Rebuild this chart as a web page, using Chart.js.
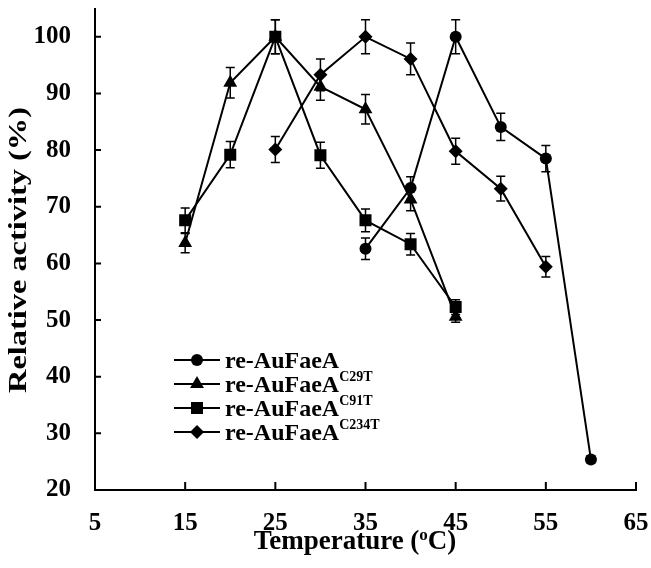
<!DOCTYPE html>
<html>
<head>
<meta charset="utf-8">
<script src="https://cdn.jsdelivr.net/npm/chart.js@4/dist/chart.umd.min.js"></script>
<style>
  html, body { margin: 0; padding: 0; background: #fff; }
</style>
</head>
<body>
<canvas id="chart" width="651" height="568"></canvas>
<script>
const seriesNames = ["re-AuFaeA", "re-AuFaeA", "re-AuFaeA", "re-AuFaeA"];
const seriesSup = ["", "C29T", "C91T", "C234T"];

const wtTemp = [35, 40, 45, 50, 55, 60];
const wtAct = [62.6, 73.3, 100, 84.1, 78.5, 25.4];
const wtErr = [1.9, 2.0, 3.0, 2.4, 2.3, 0.6];

const c29Temp = [15, 20, 25, 30, 35, 40, 45];
const c29Act = [63.6, 91.9, 100, 91.2, 87.2, 71.3, 50.6];
const c29Err = [1.7, 2.7, 3.0, 2.4, 2.6, 2.0, 1.0];

const c91Temp = [15, 20, 25, 30, 35, 40, 45];
const c91Act = [67.6, 79.2, 100, 79.1, 67.6, 63.4, 52.3];
const c91Err = [2.2, 2.3, 3.0, 2.3, 2.0, 1.9, 1.3];

const c234Temp = [25, 30, 35, 40, 45, 50, 55];
const c234Act = [80.1, 93.3, 100, 96.1, 79.8, 73.2, 59.4];
const c234Err = [2.3, 2.8, 3.0, 2.8, 2.3, 2.2, 1.8];

const xTicks = [5, 15, 25, 35, 45, 55, 65];
const yTicks = [20, 30, 40, 50, 60, 70, 80, 90, 100];

const serif = "'Liberation Serif', 'Times New Roman', serif";
const markers = [
  { style: "circle", r: 6 },
  { style: "triangle", r: 8 },
  { style: "rect", r: 8.5 },
  { style: "rectRot", r: 7 },
];

function pts(xs, ys) {
  return xs.map((x, i) => ({ x: x, y: ys[i] }));
}

const allTemps = [wtTemp, c29Temp, c91Temp, c234Temp];
const allActs = [wtAct, c29Act, c91Act, c234Act];
const allErrs = [wtErr, c29Err, c91Err, c234Err];

const datasets = allTemps.map((t, i) => ({
  label: seriesNames[i] + seriesSup[i],
  data: pts(t, allActs[i]),
  errors: allErrs[i],
  borderColor: "#000",
  backgroundColor: "#000",
  borderWidth: 2,
  pointStyle: markers[i].style,
  pointRadius: markers[i].r,
  pointHoverRadius: markers[i].r,
  pointBorderWidth: 0,
  tension: 0,
}));

// error bars, ticks pointing inwards, legend and axis titles
const extras = {
  id: "extras",
  beforeDatasetsDraw(chart) {
    const ctx = chart.ctx;
    const xs = chart.scales.x, ys = chart.scales.y;
    ctx.save();
    ctx.strokeStyle = "#000";
    ctx.lineWidth = 1.5;
    chart.data.datasets.forEach(ds => {
      ds.data.forEach((p, j) => {
        const e = ds.errors[j];
        const px = xs.getPixelForValue(p.x);
        const top = ys.getPixelForValue(p.y + e);
        const bot = ys.getPixelForValue(p.y - e);
        ctx.beginPath();
        ctx.moveTo(px, top); ctx.lineTo(px, bot);
        ctx.moveTo(px - 4.5, top); ctx.lineTo(px + 4.5, top);
        ctx.moveTo(px - 4.5, bot); ctx.lineTo(px + 4.5, bot);
        ctx.stroke();
      });
    });
    ctx.restore();
  },
  afterDraw(chart) {
    const ctx = chart.ctx;
    const xs = chart.scales.x, ys = chart.scales.y;
    const area = chart.chartArea;
    ctx.save();
    ctx.strokeStyle = "#000";
    ctx.lineWidth = 2;
    ctx.beginPath();
    xs.ticks.forEach(t => {
      const px = xs.getPixelForValue(t.value);
      ctx.moveTo(px, area.bottom); ctx.lineTo(px, area.bottom - 8);
    });
    ys.ticks.forEach(t => {
      const py = ys.getPixelForValue(t.value);
      ctx.moveTo(area.left, py); ctx.lineTo(area.left + 6, py);
    });
    ctx.stroke();

    // legend
    ctx.fillStyle = "#000";
    seriesNames.forEach((name, i) => {
      const y = 360 + i * 24;
      ctx.lineWidth = 2;
      ctx.beginPath();
      ctx.moveTo(174, y); ctx.lineTo(220, y);
      ctx.stroke();
      Chart.helpers.drawPoint(ctx, { pointStyle: markers[i].style, radius: markers[i].r, rotation: 0, borderWidth: 0 }, 197, y);
      ctx.font = "bold 24px " + serif;
      ctx.textAlign = "left";
      ctx.textBaseline = "alphabetic";
      ctx.fillText(name, 225, y + 8);
      if (seriesSup[i]) {
        const w = ctx.measureText(name).width;
        ctx.font = "bold 14px " + serif;
        ctx.fillText(seriesSup[i], 225 + w, y - 3);
      }
    });

    // y title
    ctx.save();
    ctx.translate(19, 250);
    ctx.rotate(-Math.PI / 2);
    ctx.font = "bold 26px " + serif;
    const yt = "Relative activity (%)";
    const yw = ctx.measureText(yt).width;
    ctx.scale(286 / yw, 1);
    ctx.textAlign = "center";
    ctx.textBaseline = "middle";
    ctx.fillText(yt, 0, 0);
    ctx.restore();

    // x title with superscript o
    ctx.font = "bold 27px " + serif;
    ctx.textBaseline = "alphabetic";
    ctx.textAlign = "left";
    const a = "Temperature (", b = "o", c = "C)";
    const wa = ctx.measureText(a).width;
    const wc = ctx.measureText(c).width;
    ctx.font = "bold 17px " + serif;
    const wb = ctx.measureText(b).width;
    const x0 = 355 - (wa + wb + wc) / 2;
    const base = 549;
    ctx.font = "bold 27px " + serif;
    ctx.fillText(a, x0, base);
    ctx.font = "bold 17px " + serif;
    ctx.fillText(b, x0 + wa, base - 9);
    ctx.font = "bold 27px " + serif;
    ctx.fillText(c, x0 + wa + wb, base);
    ctx.restore();
  },
};

new Chart(document.getElementById("chart").getContext("2d"), {
  type: "line",
  data: { datasets: datasets },
  plugins: [extras],
  options: {
    responsive: false,
    animation: false,
    devicePixelRatio: 1,
    layout: { padding: { left: 0, right: 15, top: 0, bottom: 0 } },
    plugins: {
      legend: { display: false },
      tooltip: { enabled: false },
    },
    scales: {
      x: {
        type: "linear",
        min: 5,
        max: 65,
        afterBuildTicks: s => { s.ticks = xTicks.map(v => ({ value: v })); },
        afterFit: s => { s.height = 78; s.paddingLeft = 0; s.paddingRight = 0; },
        grid: { display: false, drawTicks: false },
        border: { display: true, color: "#000", width: 2 },
        ticks: {
          color: "#000",
          padding: 19,
          font: { family: serif, size: 25, weight: "bold" },
        },
      },
      y: {
        min: 20,
        max: 105,
        afterBuildTicks: s => { s.ticks = yTicks.map(v => ({ value: v })); },
        afterFit: s => { s.width = 95; s.paddingTop = 0; s.paddingBottom = 0; },
        grid: { display: false, drawTicks: false },
        border: { display: true, color: "#000", width: 2 },
        ticks: {
          color: "#000",
          padding: 24,
          font: { family: serif, size: 25, weight: "bold" },
        },
      },
    },
  },
});
</script>
</body>
</html>
